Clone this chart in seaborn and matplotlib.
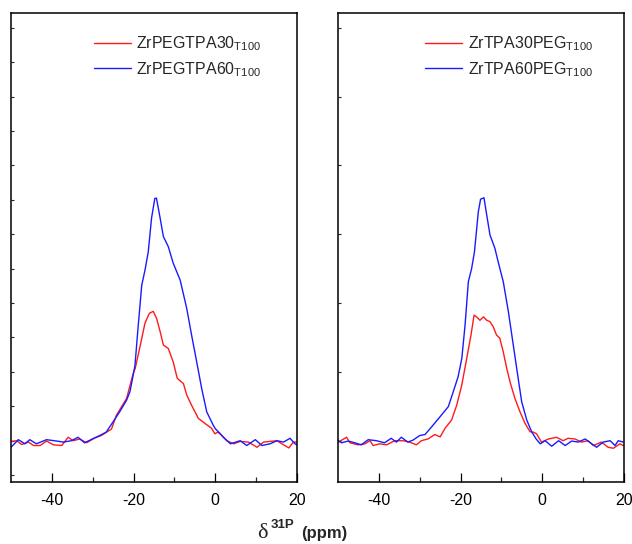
import numpy as np
import pandas as pd
import matplotlib
matplotlib.use("Agg")
import matplotlib.pyplot as plt
import seaborn as sns
from matplotlib.ticker import FixedLocator

# ---------------- data ----------------
lb_x = [-50.0, -48.2, -46.6, -45.4, -43.8, -41.3, -38.8, -37.2, -35.2, -33.6, -32.0, -29.9,
        -28.3, -26.7, -25.0, -23.4, -21.7, -20.9, -20.1, -19.65, -18.85, -18.0, -17.2, -16.4,
        -15.6, -14.8, -14.4, -13.5, -12.7, -11.5, -10.3, -8.6, -7.0, -5.8, -4.55, -3.33, -2.1,
        -0.5, 0.0, 1.15, 2.0, 3.7, 6.1, 7.7, 9.8, 11.4, 13.4, 15.1, 16.7, 18.3, 19.5, 20.0]
lb_y = [0.81, 1.03, 0.91, 1.03, 0.91, 1.03, 0.99, 0.96, 1.00, 1.10, 0.94, 1.06,
        1.15, 1.25, 1.55, 1.84, 2.18, 2.42, 2.90, 3.20, 4.36, 5.52, 5.96, 6.49,
        7.47, 8.04, 8.05, 7.47, 6.93, 6.64, 6.16, 5.67, 4.85, 4.07, 3.29, 2.52, 1.84,
        1.45, 1.35, 1.21, 1.10, 0.91, 1.00, 0.86, 1.03, 0.86, 0.91, 1.00, 0.96, 1.07, 0.91, 0.88]

lr_x = [-50.0, -48.6, -47.4, -45.7, -44.5, -42.9, -41.3, -39.6, -37.6, -36.0, -34.8, -33.2,
        -31.5, -29.5, -27.9, -25.4, -24.2, -21.7, -20.1, -19.6, -18.4, -17.2, -16.15, -15.2,
        -14.35, -13.5, -12.7, -11.5, -10.3, -9.3, -7.8, -7.0, -5.8, -4.15, -2.5, -0.9, -0.1,
        0.6, 1.2, 2.8, 4.5, 6.1, 8.1, 10.2, 11.8, 13.4, 15.1, 16.3, 18.0, 19.1, 20.0]
lr_y = [0.98, 1.00, 0.89, 0.96, 0.86, 0.86, 0.99, 0.88, 0.86, 1.10, 1.00, 1.05,
        0.94, 1.08, 1.15, 1.34, 1.74, 2.23, 2.95, 3.10, 3.75, 4.42, 4.70, 4.76,
        4.55, 4.17, 3.78, 3.68, 3.29, 2.81, 2.66, 2.33, 2.03, 1.65, 1.50, 1.36, 1.20,
        1.25, 1.20, 1.00, 0.91, 0.98, 0.96, 0.81, 0.96, 0.98, 1.00, 0.91, 0.79, 0.96, 0.96]

rb_x = [-49.9, -49.1, -47.5, -45.9, -44.3, -42.6, -40.6, -38.6, -37.0, -35.7, -34.5, -32.9,
        -31.6, -30.0, -28.7, -27.1, -25.0, -23.0, -21.8, -20.6, -19.7, -18.9, -18.1, -17.3,
        -16.6, -15.66, -15.1, -14.27, -13.6, -12.8, -11.6, -10.8, -9.55, -8.3, -7.1, -5.9,
        -5.04, -3.8, -2.6, -1.5, -0.5, 0.7, 2.3, 4.0, 5.6, 7.2, 8.8, 10.5, 12.1, 13.3, 14.9,
        16.6, 17.8, 18.6, 19.8]
rb_y = [1.00, 0.94, 0.99, 0.94, 0.88, 1.03, 1.00, 0.94, 1.07, 0.96, 1.10, 0.96,
        1.02, 1.15, 1.18, 1.40, 1.70, 1.99, 2.42, 2.86, 3.39, 4.36, 5.62, 6.00,
        6.49, 7.65, 8.02, 8.06, 7.56, 6.98, 6.59, 6.20, 5.62, 4.75, 3.78, 2.81,
        2.13, 1.60, 1.26, 1.05, 0.91, 1.00, 0.84, 1.00, 0.86, 0.99, 0.96, 1.05, 0.91, 0.81, 0.96,
        1.00, 0.86, 1.00, 0.96]

rr_x = [-49.9, -47.9, -47.1, -45.1, -43.4, -42.2, -41.4, -39.8, -38.1, -36.1, -34.1, -32.5,
        -30.8, -29.6, -28.0, -26.3, -25.0, -23.8, -22.2, -20.95, -19.7, -18.5, -17.45, -16.7,
        -16.1, -15.25, -14.4, -13.6, -12.8, -12.0, -11.2, -10.4, -9.55, -8.7, -7.9, -6.7,
        -5.46, -4.2, -3.0, -2.2, -1.4, -0.2, 1.5, 3.5, 5.1, 6.3, 8.0, 9.6, 11.2, 12.5, 14.5,
        16.1, 17.4, 19.0, 19.8]
rr_y = [0.96, 1.10, 0.94, 0.88, 0.91, 1.00, 0.86, 0.91, 0.88, 1.00, 1.00, 0.96,
        0.88, 1.00, 1.05, 1.18, 1.11, 1.36, 1.60, 2.03, 2.62, 3.39, 4.07, 4.65,
        4.60, 4.50, 4.60, 4.50, 4.46, 4.31, 4.07, 3.98, 3.58, 3.10, 2.71, 2.23,
        1.84, 1.50, 1.26, 1.25, 1.20, 0.96, 1.05, 1.10, 1.00, 1.07, 1.05, 0.96, 1.00, 0.86, 0.96,
        0.81, 0.78, 0.91, 0.86]

left_labels = ["ZrPEGTPA30$_{\\mathregular{T100}}$", "ZrPEGTPA60$_{\\mathregular{T100}}$"]
right_labels = ["ZrTPA30PEG$_{\\mathregular{T100}}$", "ZrTPA60PEG$_{\\mathregular{T100}}$"]
xtick_vals = [-40, -20, 0, 20]
xtick_minor = [-30, -10, 10]

# ---------------- style ----------------
sns.set_style("ticks")
plt.rcParams["font.family"] = ["Liberation Sans", "DejaVu Sans"]
plt.rcParams["mathtext.fontset"] = "custom"
plt.rcParams["mathtext.rm"] = "Liberation Sans"
plt.rcParams["mathtext.default"] = "regular"

fig = plt.figure(figsize=(6.32, 5.44), dpi=100)
axL = fig.add_axes([11 / 632, 1 - 482 / 544, 286 / 632, 469 / 544])
axR = fig.add_axes([338 / 632, 1 - 482 / 544, 286 / 632, 469 / 544])

RED = "#ff1a1a"
BLUE = "#1a1aff"


def panel(ax, xs, ys, labels, colors, yticks, lx):
    frames = []
    for x, y, lab in zip(xs, ys, labels):
        frames.append(pd.DataFrame({"x": x, "y": y, "s": lab}))
    df = pd.concat(frames, ignore_index=True)
    sns.lineplot(data=df, x="x", y="y", hue="s", palette=dict(zip(labels, colors)),
                 estimator=None, sort=False, lw=1.0, ax=ax)
    ax.set_xlim(-50, 20)
    ax.set_ylim(-0.2, 13.43)
    ax.xaxis.set_major_locator(FixedLocator(xtick_vals))
    ax.xaxis.set_minor_locator(FixedLocator(xtick_minor))
    ax.yaxis.set_major_locator(FixedLocator(yticks))
    ax.set_yticklabels([])
    ax.set_xticklabels([str(v) for v in xtick_vals])
    ax.tick_params(axis="x", which="major", direction="in", length=6.5, width=0.9,
                   labelsize=11.5, pad=8, colors="black")
    ax.tick_params(axis="x", which="minor", direction="in", length=3.3, width=0.9)
    ax.tick_params(axis="y", which="major", direction="in", length=2.0, width=0.8)
    for sp in ax.spines.values():
        sp.set_visible(True)
        sp.set_linewidth(1.1)
        sp.set_color("black")
    ax.set_xlabel("")
    ax.set_ylabel("")
    h, l = ax.get_legend_handles_labels()
    order = [l.index(lab) for lab in labels]
    ax.legend([h[i] for i in order], [l[i] for i in order], loc="upper left",
              bbox_to_anchor=(lx, 0.955), frameon=False, fontsize=11.5,
              borderpad=0, borderaxespad=0, handlelength=2.3, handletextpad=0.35,
              labelspacing=0.45)


panel(axL, [lr_x, lb_x], [lr_y, lb_y], left_labels, [RED, BLUE], list(range(0, 14)), 0.29)
panel(axR, [rr_x, rb_x], [rr_y, rb_y], right_labels, [RED, BLUE], list(range(1, 14, 2)), 0.305)

# x axis label
fig.text(257 / 632, 1 - 538 / 544, "\u03b4", family=["Liberation Serif", "DejaVu Serif"],
         fontsize=16, ha="left", va="baseline")
fig.text(271 / 632, 1 - 528 / 544, "31P", fontsize=9.5, fontweight="bold",
         ha="left", va="baseline")
fig.text(301 / 632, 1 - 538 / 544, "(ppm)", fontsize=12, fontweight="bold",
         ha="left", va="baseline")

fig.savefig("out.png", dpi=100)
